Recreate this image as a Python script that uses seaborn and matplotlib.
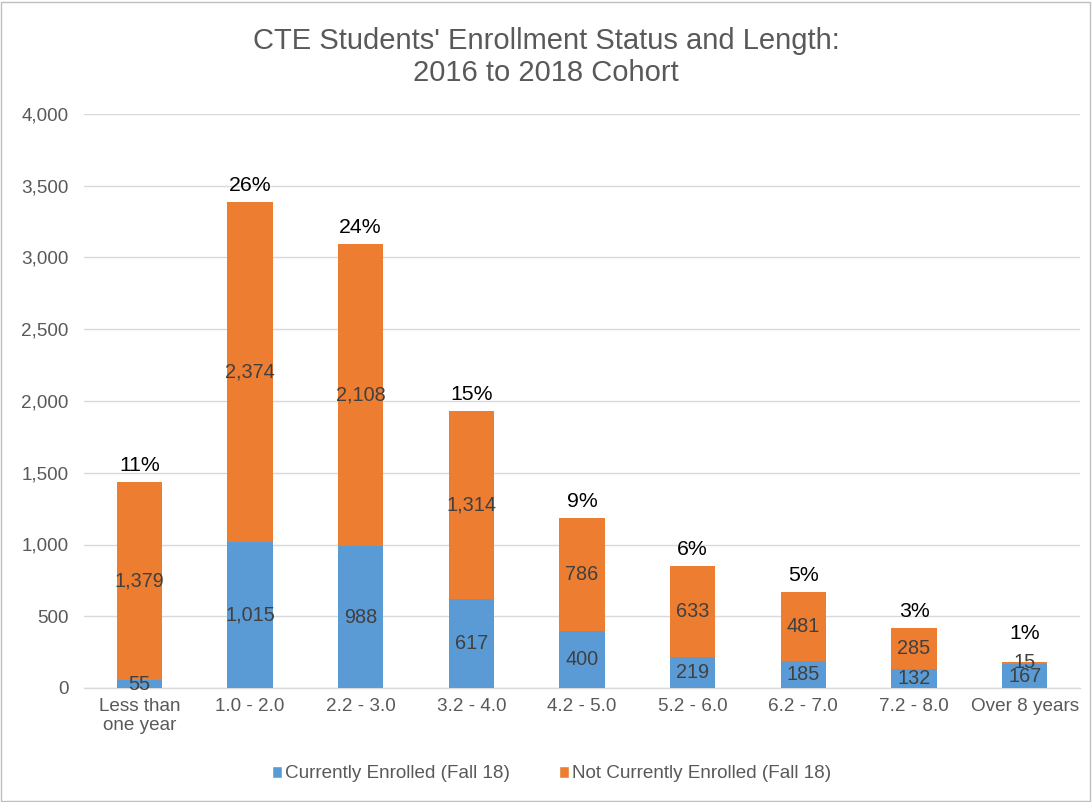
import matplotlib
matplotlib.use("Agg")
import matplotlib.pyplot as plt
import seaborn as sns
import pandas as pd
from matplotlib.patches import Patch, Rectangle
from matplotlib.ticker import FuncFormatter

categories = ["Less than\none year", "1.0 - 2.0", "2.2 - 3.0", "3.2 - 4.0", "4.2 - 5.0",
              "5.2 - 6.0", "6.2 - 7.0", "7.2 - 8.0", "Over 8 years"]
currently_enrolled = [55, 1015, 988, 617, 400, 219, 185, 132, 167]
not_enrolled = [1379, 2374, 2108, 1314, 786, 633, 481, 285, 15]
pct_labels = ["11%", "26%", "24%", "15%", "9%", "6%", "5%", "3%", "1%"]

BLUE = "#5B9BD5"
ORANGE = "#ED7D31"

sns.set_theme(style="white")
plt.rcParams["font.family"] = ["Liberation Sans", "DejaVu Sans"]

df = pd.DataFrame({
    "cat": categories,
    "cur": currently_enrolled,
    "not": not_enrolled,
})
df["total"] = df["cur"] + df["not"]

fig = plt.figure(figsize=(10.92, 8.02), dpi=100)
ax = fig.add_axes([84 / 1092, 1 - 688 / 802, (1080 - 84) / 1092, (688 - 114) / 802])

sns.barplot(data=df, x="cat", y="total", color=ORANGE, width=0.41, ax=ax,
            saturation=1, zorder=2, linewidth=0)
sns.barplot(data=df, x="cat", y="cur", color=BLUE, width=0.41, ax=ax,
            saturation=1, zorder=3, linewidth=0)

ax.set_ylim(0, 4000)
ax.set_yticks(range(0, 4001, 500))
ax.yaxis.set_major_formatter(FuncFormatter(lambda v, p: f"{int(v):,}"))
ax.grid(axis="y", color="#D9D9D9", linewidth=1, zorder=0)
ax.set_axisbelow(True)
for s in ["top", "right", "left"]:
    ax.spines[s].set_visible(False)
ax.spines["bottom"].set_color("#D9D9D9")
ax.spines["bottom"].set_linewidth(1)
ax.set_xlabel("")
ax.set_ylabel("")
ax.tick_params(axis="both", length=0, labelsize=13.6, labelcolor="#595959")
ax.tick_params(axis="x", pad=7)
ax.tick_params(axis="y", pad=11)
ax.set_xlim(-0.5, len(categories) - 0.5)

for i, (c, n) in enumerate(zip(currently_enrolled, not_enrolled)):
    ax.text(i, c / 2, f"{c:,}", ha="center", va="center", fontsize=14.3, color="#404040", zorder=5)
    ax.text(i, c + n / 2, f"{n:,}", ha="center", va="center", fontsize=14.3, color="#404040", zorder=5)
    extra = 80 if c + n < 300 else 0
    ax.text(i, c + n + 50 + extra, pct_labels[i], ha="center", va="bottom", fontsize=15.3,
            color="black", zorder=5)

fig.text(0.5, 1 - 57 / 802, "CTE Students' Enrollment Status and Length:\n2016 to 2018 Cohort",
         ha="center", va="center", fontsize=21, color="#595959", linespacing=1.22)

handles = [Patch(facecolor=BLUE, label="Currently Enrolled (Fall 18)"),
           Patch(facecolor=ORANGE, label="Not Currently Enrolled (Fall 18)")]
leg = fig.legend(handles=handles, loc="center", bbox_to_anchor=(0.505, 1 - 774 / 802), ncol=2,
                 frameon=False, fontsize=13.6, handlelength=0.55, handleheight=0.55,
                 handletextpad=0.15, columnspacing=2.6)
for t in leg.get_texts():
    t.set_color("#595959")

fig.patches.append(Rectangle((0.001, 0.001), 0.997, 0.997, transform=fig.transFigure,
                             fill=False, edgecolor="#BFBFBF", linewidth=1))

fig.savefig("out.png", dpi=100)
